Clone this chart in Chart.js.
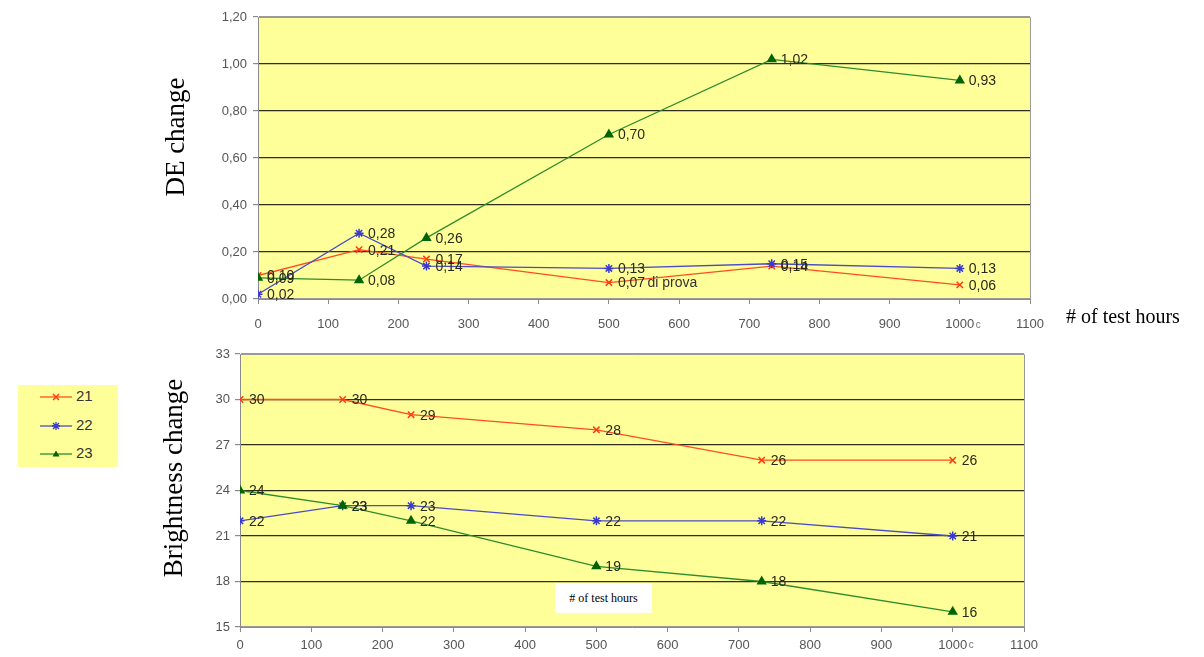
<!DOCTYPE html>
<html><head><meta charset="utf-8">
<script src="https://cdn.jsdelivr.net/npm/chart.js@4.4.0/dist/chart.umd.min.js"></script>
<style>
html,body{margin:0;padding:0;background:#fff;width:1204px;height:657px;overflow:hidden;position:relative;font-family:"Liberation Sans",Arial,sans-serif}
#c1{position:absolute;left:0;top:0}
#c2{position:absolute;left:0;top:335px}
.ytitle{position:absolute;font-family:"Liberation Serif","Times New Roman",serif;font-size:27px;color:#000;white-space:nowrap;transform:translate(-50%,-50%) rotate(-90deg);}
#xt1{position:absolute;left:1066px;top:305px;font-family:"Liberation Serif","Times New Roman",serif;font-size:20px;color:#000;white-space:nowrap}
#xt2{position:absolute;left:555px;top:583px;width:97px;height:30px;background:#fff;font-family:"Liberation Serif","Times New Roman",serif;font-size:12px;color:#000;white-space:nowrap;line-height:30px;text-align:center;z-index:5}
#legend{position:absolute;left:18px;top:385px;width:100px;height:82px;background:#ffff99}
#legend .it{position:absolute;left:22px;height:14px;font-size:15px;color:#333;line-height:14px}
#legend svg{vertical-align:middle;margin-right:4px}
</style>
</head><body>
<canvas id="c1" width="1204" height="335"></canvas>
<canvas id="c2" width="1204" height="322"></canvas>
<div class="ytitle" style="left:175px;top:137px">DE change</div>
<div class="ytitle" style="left:173px;top:478px">Brightness change</div>
<div id="xt1"># of test hours</div>
<div id="xt2"># of test hours</div>
<div id="legend"></div>
<script>
// ---- data ----
const hours = [0, 144, 240, 500, 732, 1000];
const seriesNames = ['21', '22', '23'];
const deChange21 = [0.10, 0.21, 0.17, 0.07, 0.14, 0.06];
const deChange22 = [0.02, 0.28, 0.14, 0.13, 0.15, 0.13];
const deChange23 = [0.09, 0.08, 0.26, 0.70, 1.02, 0.93];
const bright21 = [30, 30, 29, 28, 26, 26];
const bright22 = [22, 23, 23, 22, 22, 21];
const bright23 = [24, 23, 22, 19, 18, 16];
const deTicks = {min: 0, max: 1.2, step: 0.2};
const brTicks = {min: 15, max: 33, step: 3};
const hourTicks = {min: 0, max: 1100, step: 100};

const colors = ['#ff4d1f', '#4b4bc8', '#2e8b2e'];
const markerColors = ['#ff3b10', '#3a3ad0', '#006400'];
const markers = ['crossRot', 'star', 'triangle'];

function pts(vals){ return hours.map((h,i)=>({x:h, y:vals[i]})); }

const bgPlugin = {
  id:'bg',
  beforeDraw(chart){
    const {ctx, chartArea:a} = chart;
    ctx.save(); ctx.fillStyle='#ffff99';
    ctx.fillRect(a.left,a.top,a.right-a.left,a.bottom-a.top);
    ctx.restore();
  },
  beforeDatasetsDraw(chart){
    const {ctx, chartArea:a} = chart;
    ctx.save(); ctx.strokeStyle='#9a9a9a'; ctx.lineWidth=1;
    ctx.beginPath(); ctx.moveTo(a.left, a.top+0.5); ctx.lineTo(a.right+0.5, a.top+0.5); ctx.lineTo(a.right+0.5, a.bottom); ctx.stroke();
    ctx.restore();
  }
};

const labelPlugin = {
  id:'vlabels',
  afterDatasetsDraw(chart, args, opts){
    const {ctx} = chart;
    ctx.save();
    ctx.font = '14px "Liberation Sans", Arial, sans-serif';
    ctx.textBaseline = 'middle';
    ctx.textAlign = 'left';
    if (opts.extra) {
      ctx.fillStyle = '#333';
      const xs = chart.scales.x, ys = chart.scales.y;
      ctx.fillText(opts.extra.text, xs.getPixelForValue(opts.extra.x), ys.getPixelForValue(opts.extra.y) + 1);
    }
    ctx.fillStyle = '#2a2a1a';
    chart.data.datasets.forEach((ds, di) => {
      const meta = chart.getDatasetMeta(di);
      meta.data.forEach((el, i) => {
        ctx.fillText(opts.fmt(ds.data[i].y), el.x + 9, el.y + 1);
      });
    });
    // small stray "c" after 1000 tick label
    const xs = chart.scales.x;
    ctx.font = '10px "Liberation Sans", Arial, sans-serif';
    ctx.fillStyle = '#777';
    ctx.fillText('c', xs.getPixelForValue(1000) + 16, xs.top + opts.cY);
    ctx.restore();
  }
};

function makeDatasets(arrs){
  return arrs.map((vals, i) => ({
    label: seriesNames[i],
    data: pts(vals),
    borderColor: colors[i],
    backgroundColor: markerColors[i],
    pointBorderColor: markerColors[i],
    pointBackgroundColor: markerColors[i],
    pointStyle: markers[i],
    pointRadius: i === 2 ? 4.5 : 4.5,
    pointBorderWidth: 1.5,
    borderWidth: 1.3,
    tension: 0,
    order: 2 - i
  }));
}

function makeChart(canvas, arrs, yT, layout, fmt, yFmt, extra){
  return new Chart(canvas, {
    type: 'line',
    data: { datasets: makeDatasets(arrs) },
    options: {
      responsive: false,
      animation: false,
      devicePixelRatio: 1,
      layout: { padding: { left: 0, right: layout.right, top: layout.top, bottom: 0 } },
      plugins: {
        legend: { display: false },
        tooltip: { enabled: false },
        vlabels: { fmt: fmt, extra: extra, cY: layout.cY }
      },
      scales: {
        x: {
          type: 'linear',
          min: hourTicks.min, max: hourTicks.max,
          ticks: { stepSize: hourTicks.step, color: '#555', font: { family: '"Liberation Sans", Arial, sans-serif', size: 13 }, padding: layout.xPad, maxRotation: 0, autoSkip: false, callback: v => String(v) },
          grid: { drawOnChartArea: false, drawTicks: true, tickLength: 5, tickColor: '#8a8a8a', color: '#8a8a8a' },
          border: { color: '#8a8a8a', width: 1 },
          afterFit(s){ s.height = layout.xH; }
        },
        y: {
          type: 'linear',
          min: yT.min, max: yT.max,
          ticks: { stepSize: yT.step, color: '#555', font: { family: '"Liberation Sans", Arial, sans-serif', size: 13 }, padding: layout.yPad, callback: yFmt },
          grid: {
            color: c => (Math.abs(c.tick.value - yT.max) < 1e-9 || Math.abs(c.tick.value - yT.min) < 1e-9) ? '#9a9a9a' : '#2f2f20',
            lineWidth: 1.2,
            drawTicks: true, tickLength: 5, tickColor: '#8a8a8a'
          },
          border: { color: '#8a8a8a', width: 1 },
          afterFit(s){ s.width = layout.yW; }
        }
      }
    },
    plugins: [bgPlugin, labelPlugin]
  });
}

makeChart(document.getElementById('c1'), [deChange21, deChange22, deChange23], deTicks,
  { right: 174, top: 17, yW: 258, xH: 36, xPad: 13, yPad: 6, cY: 26 },
  v => v.toFixed(2).replace('.', ','),
  v => Number(v).toFixed(2).replace('.', ','),
  { text: 'di prova', x: 555, y: 0.07 });

makeChart(document.getElementById('c2'), [bright21, bright22, bright23], brTicks,
  { right: 180, top: 19, yW: 240, xH: 30, xPad: 6, yPad: 5, cY: 18 },
  v => String(Math.round(v)),
  v => String(Math.round(v)),
  null);

// ---- HTML legend ----
const lg = document.getElementById('legend');
const tops = [4, 33, 61];
seriesNames.forEach((n, i) => {
  const d = document.createElement('div');
  d.className = 'it';
  d.style.top = tops[i] + 'px';
  let mk = '';
  const c = markerColors[i];
  if (markers[i] === 'crossRot') mk = `<path d="M13 4 L19 10 M19 4 L13 10" stroke="${c}" stroke-width="1.5"/>`;
  else if (markers[i] === 'star') mk = `<path d="M13 4 L19 10 M19 4 L13 10 M16 3 L16 11 M12 7 L20 7" stroke="${c}" stroke-width="1.3"/>`;
  else mk = `<path d="M16 3.5 L19.5 9.5 L12.5 9.5 Z" fill="${c}"/>`;
  d.innerHTML = `<svg width="32" height="14"><line x1="0" y1="7" x2="32" y2="7" stroke="${colors[i]}" stroke-width="1.3"/>${mk}</svg>${n}`;
  lg.appendChild(d);
});
</script>
</body></html>
